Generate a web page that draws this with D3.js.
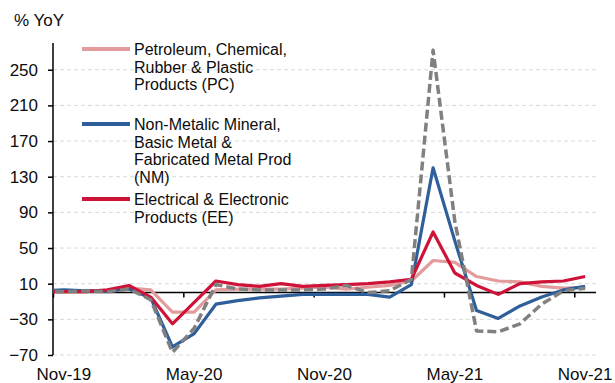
<!DOCTYPE html>
<html lang="en">
<head>
    <meta charset="UTF-8">
    <title>Manufacturing output by sector, % YoY</title>
    <script src="https://d3js.org/d3.v7.min.js"></script>
    <style>
        body { margin: 0; background: #fff; font-family: "Liberation Sans", Arial, sans-serif; }
        .grid line { stroke: #d9d9d9; stroke-width: 1; stroke-dasharray: 4,3; }
        .axis-text { font-size: 17px; fill: #0d0d0d; }
        .legend-text { font-size: 16px; fill: #0d0d0d; }
    </style>
</head>
<body>
    <div id="chart"></div>

    <script>
        const width = 615, height = 383;
        const plot = { left: 53, right: 596, top: 43, bottom: 355 };

        // Months (Oct-19 is only partly visible, clipped at the left edge)
        const months = ["Oct-19", "Nov-19", "Dec-19", "Jan-20", "Feb-20", "Mar-20", "Apr-20", "May-20",
            "Jun-20", "Jul-20", "Aug-20", "Sep-20", "Oct-20", "Nov-20", "Dec-20", "Jan-21", "Feb-21",
            "Mar-21", "Apr-21", "May-21", "Jun-21", "Jul-21", "Aug-21", "Sep-21", "Oct-21", "Nov-21"];
        const xLabels = ["Nov-19", "May-20", "Nov-20", "May-21", "Nov-21"];
        const yTicks = [-70, -30, 10, 50, 90, 130, 170, 210, 250];

        // Series values, % YoY
        const pcValues = [1, 1, 2, 2, 5, 3, -22, -22, 3, 4, 4, 4, 5, 6, 4, 6, 8, 13, 36, 34, 18, 13, 12, 7, 5, 6];
        const nmValues = [2, 3, 2, 2, 4, -6, -61, -46, -13, -9, -6, -4, -2, -2, -2, -2, -5, 9, 140, 58, -20, -29, -15, -5, 3, 7];
        const eeValues = [1, 1, 1, 3, 8, -5, -35, -11, 13, 9, 7, 10, 7, 8, 9, 10, 12, 15, 68, 22, 8, -2, 10, 12, 13, 18];
        const totalValues = [2, 1, 2, 1, 4, -8, -67, -40, 9, 4, 3, 3, 3, 4, 8, 0, 2, 15, 272, 80, -43, -44, -35, -13, 2, 5];

        const series = [
            { name: ["Petroleum, Chemical,", "Rubber & Plastic", "Products (PC)"], values: pcValues, color: "#e39c9c", dash: null, width: 3.2 },
            { name: ["Non-Metalic Mineral,", "Basic Metal &", "Fabricated Metal Prod", "(NM)"], values: nmValues, color: "#2f5f9b", dash: null, width: 3.2 },
            { name: ["Electrical & Electronic", "Products (EE)"], values: eeValues, color: "#cf1237", dash: null, width: 3.2 },
            { name: null, values: totalValues, color: "#808080", dash: "9,4", width: 3.5 }
        ];

        // Scales: index 0 = Nov-19, each month is one band centred on its index
        const xScale = d3.scaleLinear().domain([-0.5, 24.5]).range([plot.left, plot.right]);
        const yScale = d3.scaleLinear().domain([-70, 280]).range([plot.bottom, plot.top]);
        const idx = i => i - 1;

        const svg = d3.select("#chart").append("svg")
            .attr("width", width).attr("height", height);

        svg.append("clipPath").attr("id", "clip")
            .append("rect")
            .attr("x", plot.left).attr("y", 0)
            .attr("width", plot.right - plot.left).attr("height", height);

        // Gridlines
        svg.append("g").attr("class", "grid")
            .selectAll("line").data(yTicks).enter()
            .append("line")
            .attr("x1", plot.left).attr("x2", plot.right)
            .attr("y1", d => yScale(d)).attr("y2", d => yScale(d));

        // Y axis
        const yAxis = d3.axisLeft(yScale).tickValues(yTicks).tickSize(5).tickPadding(10);
        const gy = svg.append("g").attr("transform", `translate(${plot.left},0)`).call(yAxis);
        gy.select(".domain").attr("stroke", "#000").attr("stroke-width", 1.5)
            .attr("d", `M0,${plot.bottom}V${plot.top}`);
        gy.selectAll(".tick line").attr("stroke", "#000").attr("stroke-width", 1.5);
        gy.selectAll(".tick text").attr("class", "axis-text").attr("font-family", null).attr("font-size", null);

        svg.append("text").attr("class", "axis-text")
            .attr("x", 14).attr("y", 26)
            .text("% YoY");

        // X axis line at zero, ticks between every 6 months
        const xTicks = d3.range(-0.5, 24, 6);
        const xAxis = d3.axisBottom(xScale).tickValues(xTicks).tickSize(5).tickFormat("");
        const gx = svg.append("g").attr("transform", `translate(0,${yScale(0)})`).call(xAxis);
        gx.select(".domain").attr("stroke", "#000").attr("stroke-width", 1.5)
            .attr("d", `M${plot.left},0H${plot.right}`);
        gx.selectAll(".tick line").attr("stroke", "#000").attr("stroke-width", 1.5);

        // X labels sit at the bottom of the chart
        svg.selectAll(".x-label").data(xLabels).enter()
            .append("text").attr("class", "axis-text")
            .attr("x", (d, i) => xScale(i * 6)).attr("y", 380)
            .attr("text-anchor", "middle")
            .text(d => d);

        // Lines
        const line = d3.line()
            .x((d, i) => xScale(idx(i)))
            .y(d => yScale(d));

        svg.append("g").attr("clip-path", "url(#clip)")
            .selectAll("path").data(series).enter()
            .append("path")
            .attr("d", d => line(d.values))
            .attr("fill", "none")
            .attr("stroke", d => d.color)
            .attr("stroke-width", d => d.width)
            .attr("stroke-dasharray", d => d.dash)
            .attr("stroke-linejoin", "round");

        // Legend
        const legendItems = series.filter(s => s.name);
        const legendY = [49, 124, 199];
        const legend = svg.append("g");
        legendItems.forEach((s, k) => {
            const y = legendY[k];
            legend.append("line")
                .attr("x1", 82).attr("x2", 130)
                .attr("y1", y).attr("y2", y)
                .attr("stroke", s.color).attr("stroke-width", 4);
            legend.append("text").attr("class", "legend-text")
                .selectAll("tspan").data(s.name).enter()
                .append("tspan")
                .attr("x", 134).attr("y", (d, j) => y + 6 + j * 17.6)
                .text(d => d);
        });
    </script>
</body>
</html>
